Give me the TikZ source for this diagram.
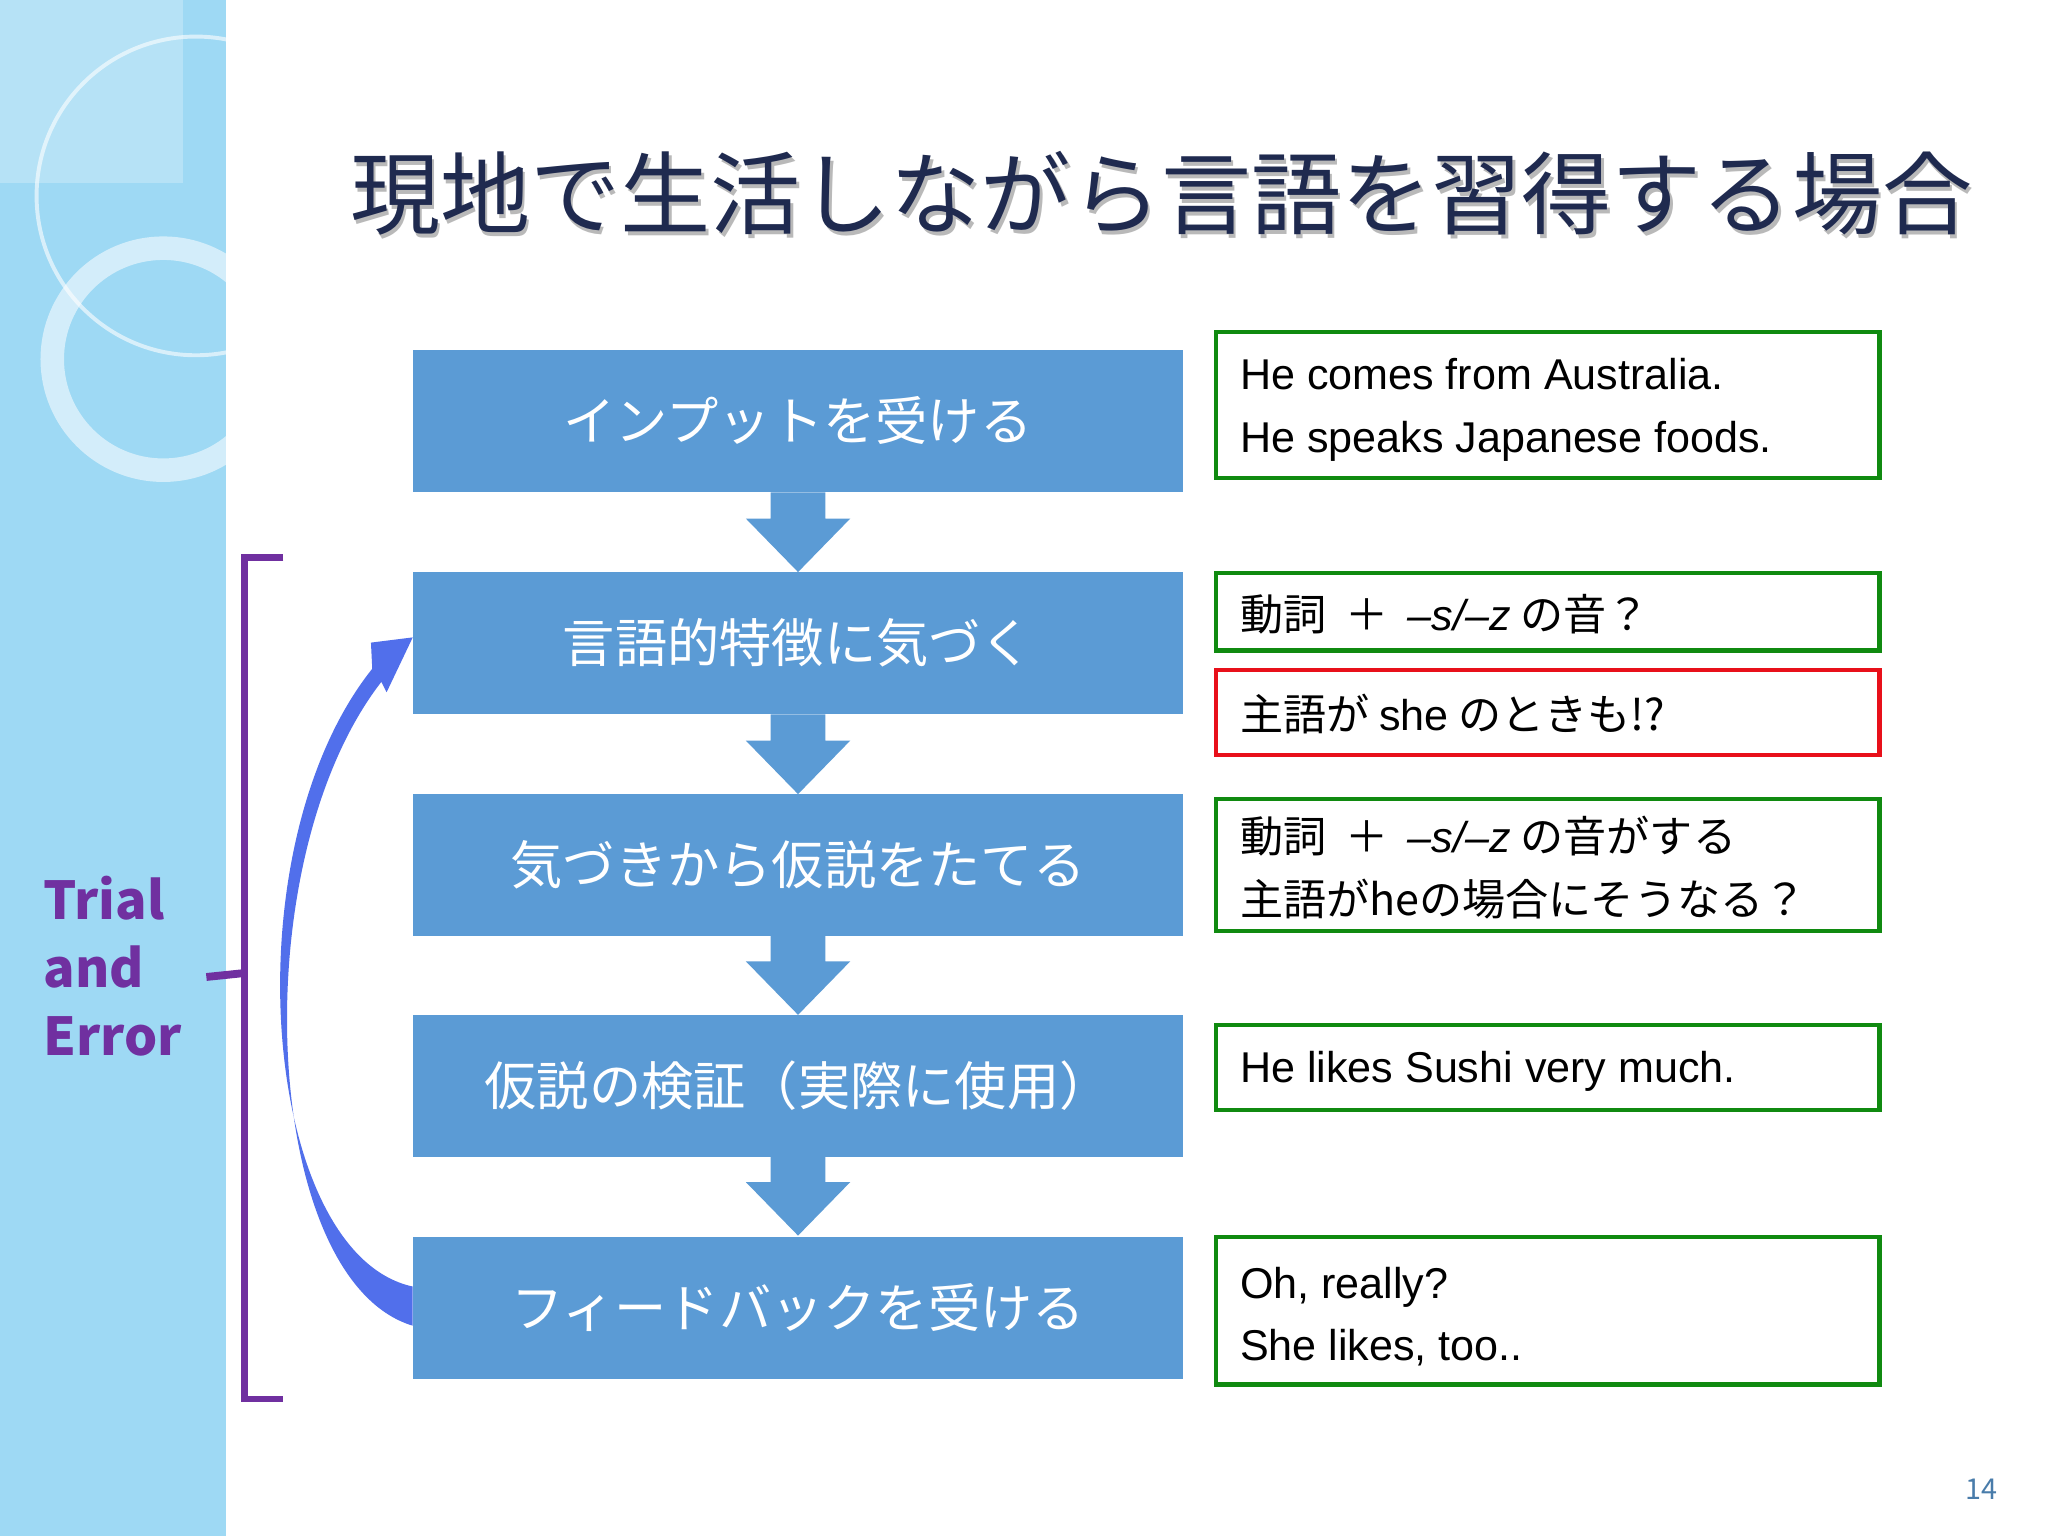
\documentclass[tikz,border=0pt]{standalone}
\usepackage{fontspec}
\setmainfont{Noto Sans CJK JP}
\newfontfamily\lat{Liberation Sans}
\usetikzlibrary{arrows.meta,shapes.arrows}
\definecolor{boxblue}{HTML}{5B9BD5}
\definecolor{grn}{HTML}{108A10}
\definecolor{rd}{HTML}{E8101A}
\definecolor{purp}{HTML}{7030A0}
\definecolor{navy}{HTML}{1F2A4F}
\definecolor{panel}{HTML}{9ED9F4}
\tikzset{
 stepbox/.style={fill=boxblue,draw=none,text=white,font=\fontsize{20}{24}\selectfont},
 notebox/.style={draw=grn,line width=1.6pt},
 notetxt/.style={anchor=west,align=left,font=\fontsize{16.5}{24}\selectfont,inner sep=0pt},
 ttl/.style={font=\fontsize{34.5}{40}\selectfont}
}
\begin{document}
\begin{tikzpicture}[x=0.5pt,y=-0.5pt]
\useasboundingbox (0,0) rectangle (1568,1176);
\fill[white] (0,0) rectangle (1568,1176);
\fill[panel] (0,0) rectangle (173,1176);
\fill[white,opacity=0.25] (0,0) rectangle (140,140);
\begin{scope}
\clip (0,0) rectangle (173,1176);
\draw[white,opacity=0.6,line width=1.5pt] (150,150) circle (122);
\draw[white,opacity=0.55,line width=9pt] (125,275) circle (85);
\end{scope}
% title with shadow
\begin{scope}
\node[text=gray!55,ttl] at (891,151) {現地で生活しながら言語を習得する場合};
\end{scope}
\node (title)[text=navy,ttl] at (889,148) {現地で生活しながら言語を習得する場合};
% step boxes
\foreach \n/\t/\txt in {s1/268/インプットを受ける,s2/438/言語的特徴に気づく,s3/608/気づきから仮説をたてる,s4/777/仮説の検証（実際に使用）,s5/947/フィードバックを受ける}{
 \fill[boxblue] (316,\t) rectangle (906,\t+109);
 \node (\n)[text=white,font=\fontsize{20}{24}\selectfont] at (611,\t+54) {\txt};
}
% down arrows
\foreach \a in {377,547,716,885}{
 \fill[boxblue] (590,\a) -- (632,\a) -- (632,\a+20) -- (651,\a+20) -- (611,\a+61) -- (571,\a+20) -- (590,\a+20) -- cycle;
}
% note boxes
\draw[notebox] (931,254) rectangle (1439,366);
\node (n1)[notetxt] at (949,314) {\lat He comes from Australia.\\\lat He speaks Japanese foods.};
\draw[notebox] (931,439) rectangle (1439,498);
\node (n2)[notetxt] at (949,470) {動詞\ \ ＋\ \ {\lat\itshape –s/–z} の音？};
\draw[notebox,draw=rd] (931,513) rectangle (1439,578);
\node (n3)[notetxt] at (949,547) {主語が {\lat she} のときも!?};
\draw[notebox] (931,612) rectangle (1439,713);
\node (n4)[notetxt] at (949,664) {動詞\ \ ＋\ \ {\lat\itshape –s/–z} の音がする\\主語がheの場合にそうなる？};
\draw[notebox] (931,785) rectangle (1439,850);
\node (n5)[notetxt] at (949,820) {\lat He likes Sushi very much.};
\draw[notebox] (931,947) rectangle (1439,1060);
\node (n6)[notetxt] at (949,1008) {\lat Oh, really?\\\lat She likes, too..};
% bracket
\draw[purp,line width=2.5pt] (217,427) -- (187,427) -- (187,1071) -- (217,1071);
\draw[purp,line width=3pt] (187,745) -- (158,748);
\node (te)[anchor=west,align=left,text=purp,font=\bfseries\fontsize{20}{26}\selectfont,inner sep=0pt] at (33,740) {Trial\\and\\Error};
% curved arrow
\fill[blue!45!boxblue!85!white] (316,985) .. controls (200,960) and (175,650) .. (285,512)
 -- (284,492) -- (316,488) -- (296,530) -- (292,522)
 .. controls (185,660) and (200,980) .. (316,1015) -- cycle;
\node (pg)[text=boxblue!80!black,font=\fontsize{11}{13}\selectfont] at (1517,1140) {14};
\end{tikzpicture}
\end{document}
